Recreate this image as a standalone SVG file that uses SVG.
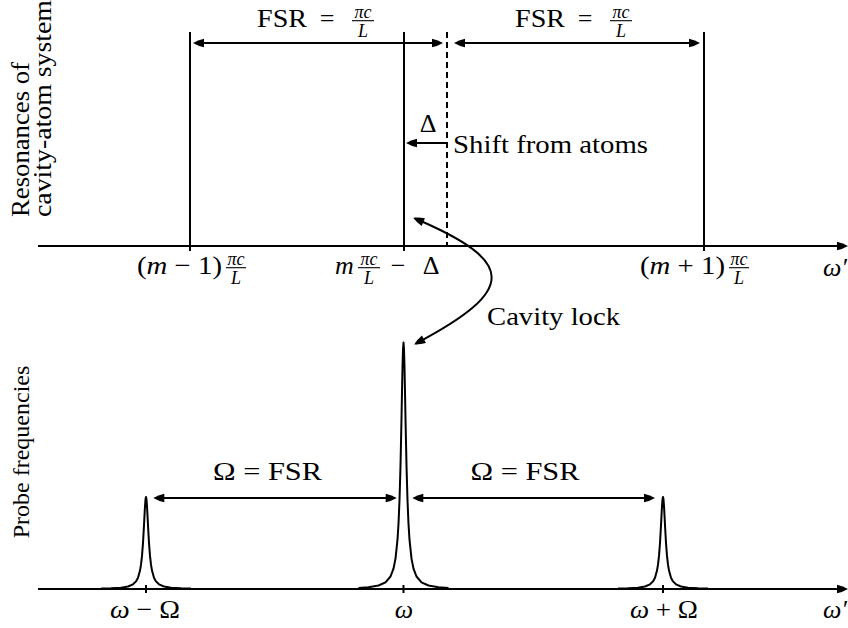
<svg xmlns="http://www.w3.org/2000/svg" width="848" height="628" viewBox="0 0 848 628">
<style>
.t{font-family:"Liberation Serif","Times New Roman",serif;font-size:26px;fill:#000}
.s{font-size:18px}
.i{font-style:italic}
.ln{stroke:#000;stroke-width:2;fill:none}
.bar{stroke:#000;stroke-width:1.1}
.ar{marker-end:url(#ah)}
.ar2{marker-start:url(#ah);marker-end:url(#ah)}
</style>
<defs>
<marker id="ah" viewBox="-10 -5 13 10" refX="0" refY="0" markerWidth="13" markerHeight="10" markerUnits="userSpaceOnUse" orient="auto-start-reverse">
<path d="M2,0 Q-3,-3 -9,-4.2 L-9,4.2 Q-3,3 2,0Z" fill="#000"/>
</marker>
</defs>
<rect width="848" height="628" fill="#fff"/>

<g id="axes">
<line class="ln ar" x1="38" y1="246" x2="846" y2="246"/>
<line class="ln ar" x1="38" y1="589" x2="846" y2="589"/>
</g>

<g id="resonances">
<line class="ln" x1="190" y1="32" x2="190" y2="251"/>
<line class="ln" x1="404" y1="32" x2="404" y2="251"/>
<line class="ln" x1="704" y1="32" x2="704" y2="251"/>
<line class="ln" x1="447" y1="32" x2="447" y2="246" stroke-dasharray="6 4"/>
</g>

<g id="peaks">
<polyline class="ln" stroke-linejoin="round" points="101,588.6 111,588.3 121,587.7 128,586.5 133,584.3 136,581.4 138,577.7 140,570.6 141,564.7 142,555.9 143,543 144,525.3 144.5,515.4 145,506.2 145.5,499.5 146,497 146.5,499.5 147,506.2 147.5,515.4 148,525.3 149,543 150,555.9 151,564.7 152,570.6 154,577.7 156,581.4 159,584.3 164,586.5 171,587.7 181,588.3 191,588.6"/>
<polyline class="ln" stroke-linejoin="round" points="358.5,587.9 368.5,587.2 378.5,585.5 385.5,582.3 390.5,576.5 393.5,568.6 395.5,558.6 397.5,539.7 398.5,523.8 399.5,500.3 400.5,465.8 401.5,418.4 402,391.8 402.5,367.2 403,349.2 403.5,342.5 404,349.2 404.5,367.2 405,391.8 405.5,418.4 406.5,465.8 407.5,500.3 408.5,523.8 409.5,539.7 411.5,558.6 413.5,568.6 416.5,576.5 421.5,582.3 428.5,585.5 438.5,587.2 448.5,587.9"/>
<polyline class="ln" stroke-linejoin="round" points="618,588.6 628,588.3 638,587.7 645,586.5 650,584.3 653,581.4 655,577.7 657,570.6 658,564.7 659,555.9 660,543 661,525.3 661.5,515.4 662,506.2 662.5,499.5 663,497 663.5,499.5 664,506.2 664.5,515.4 665,525.3 666,543 667,555.9 668,564.7 669,570.6 671,577.7 673,581.4 676,584.3 681,586.5 688,587.7 698,588.3 708,588.6"/>
<line class="ln" x1="146" y1="585" x2="146" y2="593"/>
<line class="ln" x1="403.5" y1="585" x2="403.5" y2="593"/>
<line class="ln" x1="663" y1="585" x2="663" y2="593"/>
</g>

<g id="connectors">
<line class="ln ar2" x1="195" y1="43" x2="441" y2="43"/>
<line class="ln ar2" x1="456" y1="43" x2="698" y2="43"/>
<line class="ln ar" x1="446" y1="143" x2="408" y2="143"/>
<line class="ln ar2" x1="155.3" y1="498" x2="394.7" y2="498"/>
<line class="ln ar2" x1="414.3" y1="498" x2="653" y2="498"/>
<path class="ln ar2" d="M415,218.5 C517,262 517,290 416,343.5"/>
</g>

<g id="label-fsr1">
<text class="t" x="257" y="27" textLength="50" lengthAdjust="spacingAndGlyphs">FSR</text>
<text class="t" x="327" y="27" text-anchor="middle">=</text>
<text class="t s i" x="363" y="18" text-anchor="middle">πc</text>
<line class="bar" x1="352" y1="20.7" x2="374" y2="20.7"/>
<text class="t s i" x="363" y="36.7" text-anchor="middle">L</text>
</g>
<g id="label-fsr2">
<text class="t" x="515" y="27" textLength="50" lengthAdjust="spacingAndGlyphs">FSR</text>
<text class="t" x="585" y="27" text-anchor="middle">=</text>
<text class="t s i" x="621" y="18" text-anchor="middle">πc</text>
<line class="bar" x1="610" y1="20.7" x2="632" y2="20.7"/>
<text class="t s i" x="621" y="36.7" text-anchor="middle">L</text>
</g>
<g id="label-delta">
<text class="t" x="428" y="132" text-anchor="middle">Δ</text>
<text class="t" x="453" y="153" textLength="195" lengthAdjust="spacingAndGlyphs">Shift from atoms</text>
</g>

<g id="label-m-1">
<text class="t" x="137" y="274" textLength="85" lengthAdjust="spacingAndGlyphs">(<tspan class="i">m</tspan> − 1)</text>
<text class="t s i" x="236" y="265.3" text-anchor="middle">πc</text>
<line class="bar" x1="226" y1="267.7" x2="246" y2="267.7"/>
<text class="t s i" x="236" y="283.7" text-anchor="middle">L</text>
</g>
<g id="label-m">
<text class="t i" x="335" y="274">m</text>
<text class="t s i" x="369" y="265.3" text-anchor="middle">πc</text>
<line class="bar" x1="358" y1="267.7" x2="380" y2="267.7"/>
<text class="t s i" x="369" y="283.7" text-anchor="middle">L</text>
<text class="t" x="398" y="274" text-anchor="middle">−</text>
<text class="t" x="431" y="274" text-anchor="middle">Δ</text>
</g>
<g id="label-m+1">
<text class="t" x="640" y="274" textLength="85" lengthAdjust="spacingAndGlyphs">(<tspan class="i">m</tspan> + 1)</text>
<text class="t s i" x="739" y="265.3" text-anchor="middle">πc</text>
<line class="bar" x1="729" y1="267.7" x2="749" y2="267.7"/>
<text class="t s i" x="739" y="283.7" text-anchor="middle">L</text>
</g>
<g id="label-omega-top">
<text class="t i" x="823" y="276">ω′</text>
</g>

<g id="label-cavity-lock">
<text class="t" x="487" y="325" textLength="133" lengthAdjust="spacingAndGlyphs">Cavity lock</text>
</g>

<g id="label-omega-fsr">
<text class="t" x="267.5" y="480" text-anchor="middle" textLength="109" lengthAdjust="spacingAndGlyphs">Ω = FSR</text>
<text class="t" x="525" y="480" text-anchor="middle" textLength="109" lengthAdjust="spacingAndGlyphs">Ω = FSR</text>
</g>

<g id="label-bottom">
<text class="t" x="145" y="618" text-anchor="middle" textLength="70" lengthAdjust="spacingAndGlyphs"><tspan class="i">ω</tspan> − Ω</text>
<text class="t i" x="404" y="618" text-anchor="middle">ω</text>
<text class="t" x="664" y="618" text-anchor="middle" textLength="68" lengthAdjust="spacingAndGlyphs"><tspan class="i">ω</tspan> + Ω</text>
<text class="t i" x="823" y="618">ω′</text>
</g>

<g id="label-yaxis">
<text class="t" transform="translate(29,217) rotate(-90)" textLength="155" lengthAdjust="spacingAndGlyphs">Resonances of</text>
<text class="t" transform="translate(51,217) rotate(-90)" textLength="217" lengthAdjust="spacingAndGlyphs">cavity-atom system</text>
<text class="t" transform="translate(29,452) rotate(-90)" text-anchor="middle" style="font-size:24px">Probe frequencies</text>
</g>
</svg>
